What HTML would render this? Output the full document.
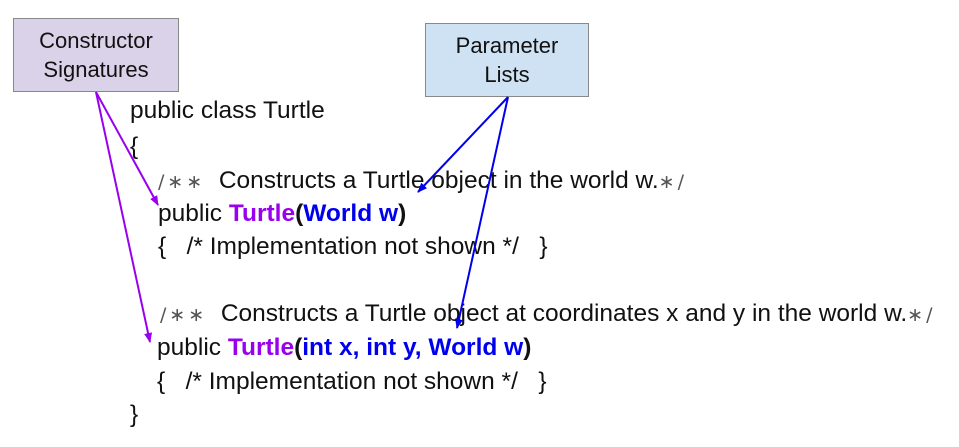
<!DOCTYPE html>
<html><head><meta charset="utf-8"><style>
body{margin:0;width:959px;height:447px;background:#fff;position:relative;overflow:hidden;font-family:"Liberation Sans",sans-serif;}
.box{position:absolute;border:1px solid #888;font-size:22px;text-align:center;line-height:29px;color:#111;box-sizing:border-box;display:flex;align-items:center;justify-content:center;}
.l{position:absolute;font-size:24.5px;color:#111;white-space:pre;line-height:26px;}
.p{color:#9900ee;font-weight:bold}.b{color:#0000ee;font-weight:bold}.k{font-weight:bold}
.c{color:#555;font-family:"DejaVu Sans",sans-serif;font-size:19px;letter-spacing:3px}
svg{position:absolute;left:0;top:0}
</style></head><body>
<div class="box" style="left:13px;top:18px;width:166px;height:74px;background:#d9d2e9">Constructor<br>Signatures</div>
<div class="box" style="left:425px;top:23px;width:164px;height:74px;background:#cfe2f3">Parameter<br>Lists</div>
<div class="l" style="left:130px;top:98px">public class Turtle</div>
<div class="l" style="left:130px;top:134px">{</div>
<div class="l" style="left:158px;top:168px"><span class="c">/∗∗</span>  Constructs a Turtle object in the world w.<span class="c">∗/</span></div>
<div class="l" style="left:158px;top:201px">public <span class="p">Turtle</span><span class="k">(</span><span class="b">World w</span><span class="k">)</span></div>
<div class="l" style="left:158px;top:234px">{   /* Implementation not shown */   }</div>
<div class="l" style="left:160px;top:301px"><span class="c">/∗∗</span>  Constructs a Turtle object at coordinates x and y in the world w.<span class="c">∗/</span></div>
<div class="l" style="left:157px;top:335px">public <span class="p">Turtle</span><span class="k">(</span><span class="b">int x, int y, World w</span><span class="k">)</span></div>
<div class="l" style="left:157px;top:369px">{   /* Implementation not shown */   }</div>
<div class="l" style="left:130px;top:402px">}</div>
<svg width="959" height="447">
<defs>
<marker id="mp" markerWidth="10" markerHeight="8" refX="9" refY="4" orient="auto" markerUnits="userSpaceOnUse"><path d="M0,0L10,4L0,8z" fill="#9900ee"/></marker>
<marker id="mb" markerWidth="10" markerHeight="8" refX="9" refY="4" orient="auto" markerUnits="userSpaceOnUse"><path d="M0,0L10,4L0,8z" fill="#0000ee"/></marker>
</defs>
<g stroke-width="2" fill="none">
<line x1="96" y1="92" x2="158" y2="205" stroke="#9900ee" marker-end="url(#mp)"/>
<line x1="96" y1="92" x2="150" y2="342" stroke="#9900ee" marker-end="url(#mp)"/>
<line x1="508" y1="97" x2="418" y2="192" stroke="#0000ee" marker-end="url(#mb)"/>
<line x1="508" y1="97" x2="457" y2="328" stroke="#0000ee" marker-end="url(#mb)"/>
</g>
</svg>
</body></html>
